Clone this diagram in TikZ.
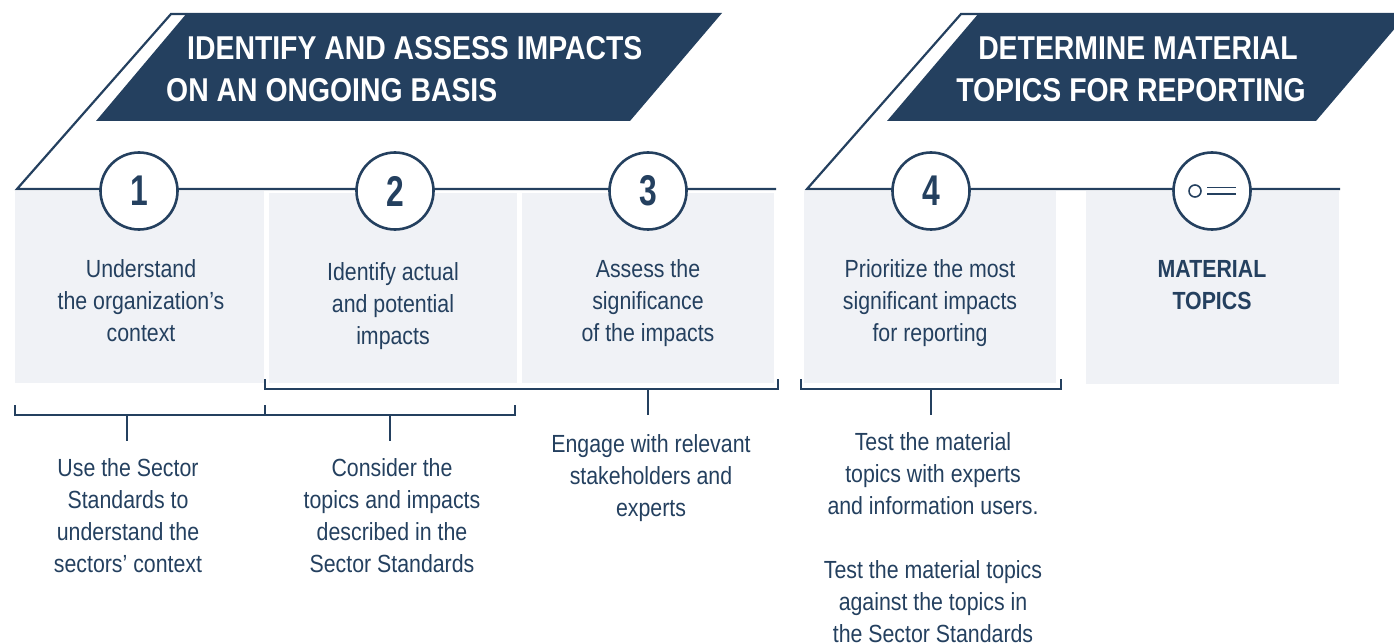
\documentclass[tikz,border=0pt]{standalone}
\usepackage{tikz}
\usepackage{xcolor}
\usepackage{fontspec}
\setmainfont[FakeStretch=0.86]{Liberation Sans}
\newfontfamily\digitfont[FakeStretch=0.74]{Liberation Sans}
\definecolor{griblue}{HTML}{24405F}
\definecolor{gripale}{HTML}{F0F2F6}
\tikzset{
  banner/.style={fill=griblue,draw=none},
  band/.style={griblue,line width=2.6pt},
  panel/.style={fill=gripale,draw=none},
  stepnum/.style={circle,draw=griblue,line width=2.6pt,fill=white,minimum size=77pt,inner sep=0pt,text=griblue,font=\digitfont\fontsize{43}{43}\selectfont\bfseries},
  headtext/.style={text=white,font=\fontsize{33}{42}\selectfont\bfseries,align=center,inner sep=0pt},
  bodytext/.style={text=griblue,font=\fontsize{24.8}{32}\selectfont,align=center,inner sep=0pt},
}
\begin{document}
\begin{tikzpicture}[x=1pt,y=-1pt]
\useasboundingbox (0,0) rectangle (1394,644);
\clip (0,0) rectangle (1394,644);

% panels
\fill[panel] (15,191) rectangle (264,383);
\fill[panel] (269,193) rectangle (517,383);
\fill[panel] (522,193) rectangle (774,383);
\fill[panel] (804,191) rectangle (1056,383);
\fill[panel] (1086,191) rectangle (1339,384);

% banners
\fill[banner] (187,13) -- (722,13) -- (630,121) -- (96,121) -- cycle;
\fill[banner] (979,13) -- (1408,13) -- (1316,121) -- (887,121) -- cycle;

% outlines
\coordinate (topa) at (187,14);
\coordinate (cornera) at (17,189);
\coordinate (enda) at (776,189);
\coordinate (topb) at (979,14);
\coordinate (cornerb) at (807,189);
\coordinate (endb) at (1340,189);
\draw[griblue,line width=2.2pt] (topa) -- (171,14) -- (cornera) -- (enda);
\draw[griblue,line width=2.2pt] (topb) -- (961,14) -- (cornerb) -- (endb);

% circles
\node[stepnum] (one) at (139,191) {1};
\node[stepnum] (two) at (395,191) {2};
\node[stepnum] (three) at (648,191) {3};
\node[stepnum] (four) at (931,191) {4};
\node[stepnum] (topics) at (1212,191) {};

% list mark
\node[circle,draw=griblue,line width=1.6pt,minimum size=12pt,inner sep=0pt] (dot) at (1195,191) {};
\draw[griblue,line width=1.6pt] (1207,187.5) -- (1236,187.5);
\draw[griblue,line width=1.6pt] (1207,194) -- (1236,194);

% headings
\node[headtext,anchor=west] (heada) at (187,48) {IDENTIFY AND ASSESS IMPACTS};
\node[headtext,anchor=west] (headb) at (166,90) {ON AN ONGOING BASIS};
\node[headtext] (headc) at (1138,48) {DETERMINE MATERIAL};
\node[headtext] (headd) at (1131,90) {TOPICS FOR REPORTING};

% panel text
\node[bodytext] (ctx) at (141,301) {Understand\\the organization’s\\context};
\node[bodytext] (act) at (393,306) {Identify actual\\and potential\\impacts};
\node[bodytext] (sig) at (648,303) {Assess the\\significance\\of the impacts};
\node[bodytext] (pri) at (930,303) {Prioritize the most\\significant impacts\\for reporting};
\node[bodytext,font=\fontsize{24.8}{32}\selectfont\bfseries] (mat) at (1212,285) {MATERIAL\\TOPICS};

% brackets
\draw[band] (15,405) |- (265,415) -- (265,405);
\draw[band] (265,415) -| (515,405);
\draw[band] (265,379) |- (778,389) -- (778,379);
\draw[band] (801,379) |- (1061,389) -- (1061,379);
\draw[band] (127,415) -- (127,441);
\draw[band] (390,415) -- (390,441);
\draw[band] (648,389) -- (648,415);
\draw[band] (931,389) -- (931,415);

% lower text
\node[bodytext] (usea) at (128,516) {Use the Sector\\Standards to\\understand the\\sectors’ context};
\node[bodytext] (cona) at (392,516) {Consider the\\topics and impacts\\described in the\\Sector Standards};
\node[bodytext] (enga) at (651,478) {Engage with relevant\\stakeholders and\\experts};
\node[bodytext] (tesa) at (933,537.5) {Test the material\\topics with experts\\and information users.\\[32pt]Test the material topics\\against the topics in\\the Sector Standards};
\end{tikzpicture}
\end{document}
